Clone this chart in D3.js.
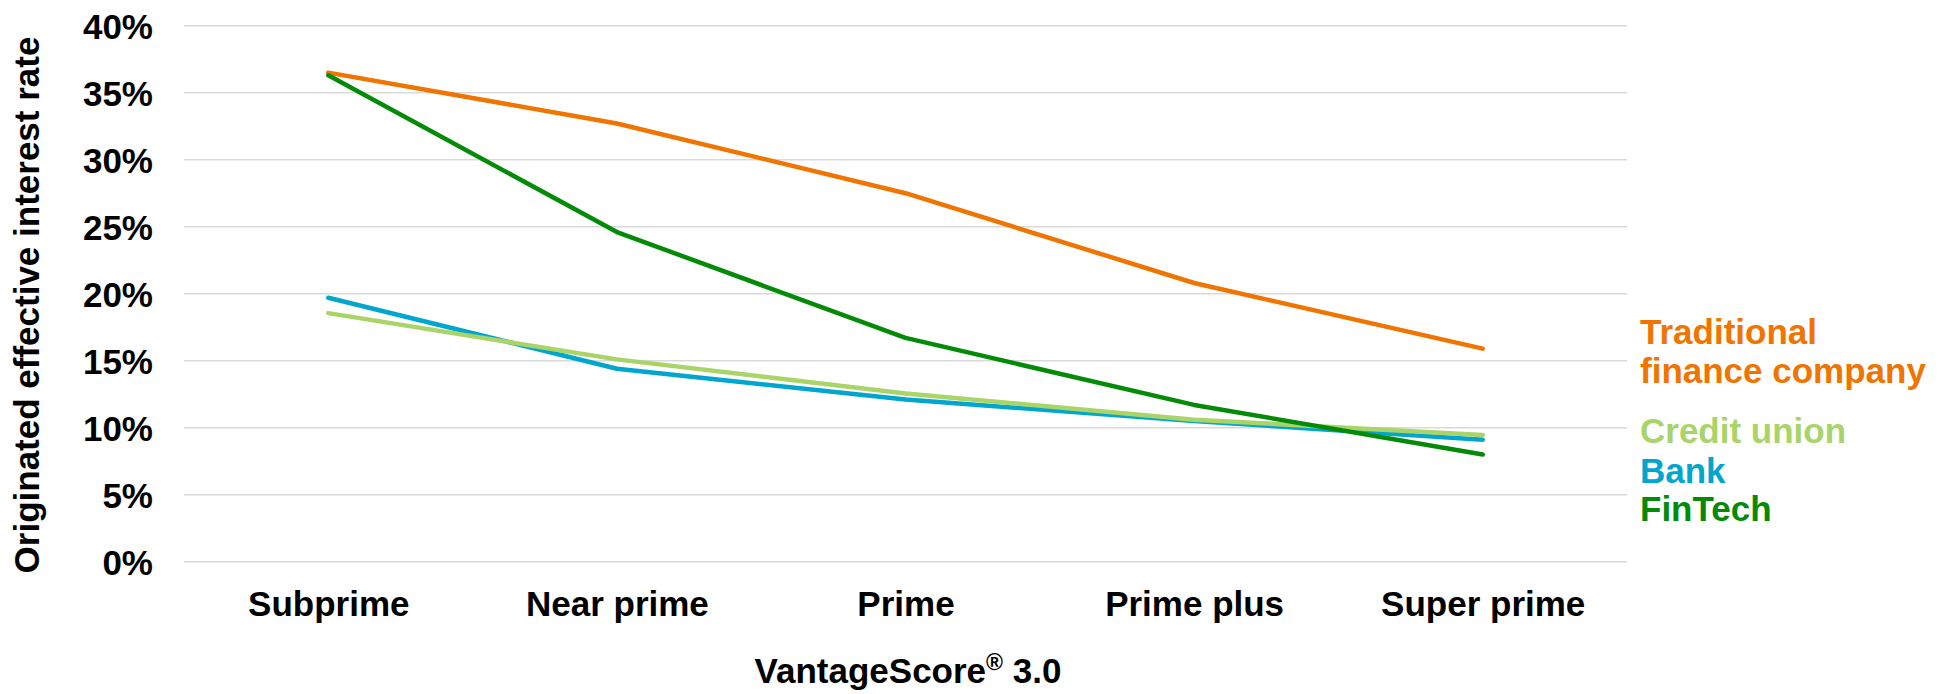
<!DOCTYPE html>
<html>
<head>
<meta charset="utf-8">
<script src="https://cdn.jsdelivr.net/npm/d3@7"></script>
<style>
  html, body { margin: 0; padding: 0; background: #fff; }
  svg { display: block; }
  text { font-family: "Liberation Sans", Arial, sans-serif; font-weight: bold; }
</style>
</head>
<body>
<svg id="chart" width="1946" height="694"></svg>
<script>
// Credit tiers (VantageScore 3.0)
const categories = ["Subprime", "Near prime", "Prime", "Prime plus", "Super prime"];

// Originated effective interest rate by lender type (%)
const bankRates        = [19.7, 14.4, 12.1, 10.5, 9.1];
const creditUnionRates = [18.55, 15.1, 12.55, 10.6, 9.45];
const traditionalRates = [36.5, 32.7, 27.5, 20.8, 15.9];
const fintechRates     = [36.3, 24.6, 16.7, 11.7, 8.0];

const yTicks = [0, 5, 10, 15, 20, 25, 30, 35, 40];

// Drawing order (later series sit on top)
const series = [
  { name: "Bank", values: bankRates, color: "#00A6CE" },
  { name: "Credit union", values: creditUnionRates, color: "#A8D468" },
  { name: "Traditional finance company", values: traditionalRates, color: "#F07400" },
  { name: "FinTech", values: fintechRates, color: "#038B08" }
];

// Labels placed to the right of the plot
const legendEntries = [
  { lines: ["Traditional", "finance company"], color: "#F07400", y: 344 },
  { lines: ["Credit union"], color: "#A8D468", y: 443 },
  { lines: ["Bank"], color: "#00A6CE", y: 483 },
  { lines: ["FinTech"], color: "#038B08", y: 521 }
];

const svg = d3.select("#chart");
const plot = { left: 184, right: 1627, top: 25.7, bottom: 561.7 };

const x = d3.scalePoint().domain(categories).range([plot.left, plot.right]).padding(0.5);
const y = d3.scaleLinear().domain([0, 40]).range([plot.bottom, plot.top]);

// Horizontal gridlines
svg.append("g")
  .selectAll("line")
  .data(yTicks)
  .join("line")
  .attr("x1", plot.left)
  .attr("x2", plot.right)
  .attr("y1", d => y(d))
  .attr("y2", d => y(d))
  .attr("stroke", "#d9d9d9")
  .attr("stroke-width", 1.5);

// Y axis tick labels
const yAxis = d3.axisLeft(y).tickValues(yTicks).tickFormat(d => d + "%").tickSize(0).tickPadding(0);
const yg = svg.append("g").attr("transform", "translate(153,0)").call(yAxis);
yg.select(".domain").remove();
yg.selectAll("text")
  .attr("font-size", 35)
  .attr("font-family", "Liberation Sans, Arial, sans-serif")
  .attr("font-weight", "bold")
  .attr("fill", "#000")
  .attr("dy", "0.36em");

// X axis category labels
const xAxis = d3.axisBottom(x).tickSize(0).tickPadding(0);
const xg = svg.append("g").attr("transform", "translate(0,616)").call(xAxis);
xg.select(".domain").remove();
xg.selectAll("text")
  .attr("font-size", 35)
  .attr("font-family", "Liberation Sans, Arial, sans-serif")
  .attr("font-weight", "bold")
  .attr("fill", "#000")
  .attr("dy", 0);

// Axis titles
svg.append("text")
  .attr("transform", "translate(39,305) rotate(-90)")
  .attr("text-anchor", "middle")
  .attr("font-size", 35)
  .attr("fill", "#000")
  .text("Originated effective interest rate");

const xTitle = svg.append("text")
  .attr("x", 908)
  .attr("y", 683)
  .attr("text-anchor", "middle")
  .attr("font-size", 35)
  .attr("fill", "#000");
xTitle.append("tspan").text("VantageScore");
xTitle.append("tspan").attr("font-size", 23).attr("dy", -13).text("®");
xTitle.append("tspan").attr("dy", 13).text(" 3.0");

// Series lines
const line = d3.line()
  .x((d, i) => x(categories[i]))
  .y(d => y(d));

svg.append("g")
  .selectAll("path")
  .data(series)
  .join("path")
  .attr("d", d => line(d.values))
  .attr("fill", "none")
  .attr("stroke", d => d.color)
  .attr("stroke-width", 4.5)
  .attr("stroke-linecap", "round")
  .attr("stroke-linejoin", "round");

// Series labels
const lg = svg.append("g");
legendEntries.forEach(e => {
  const t = lg.append("text")
    .attr("x", 1640)
    .attr("y", e.y)
    .attr("font-size", 35)
    .attr("fill", e.color);
  e.lines.forEach((l, i) => {
    t.append("tspan").attr("x", 1640).attr("dy", i === 0 ? 0 : 39).text(l);
  });
});
</script>
</body>
</html>
